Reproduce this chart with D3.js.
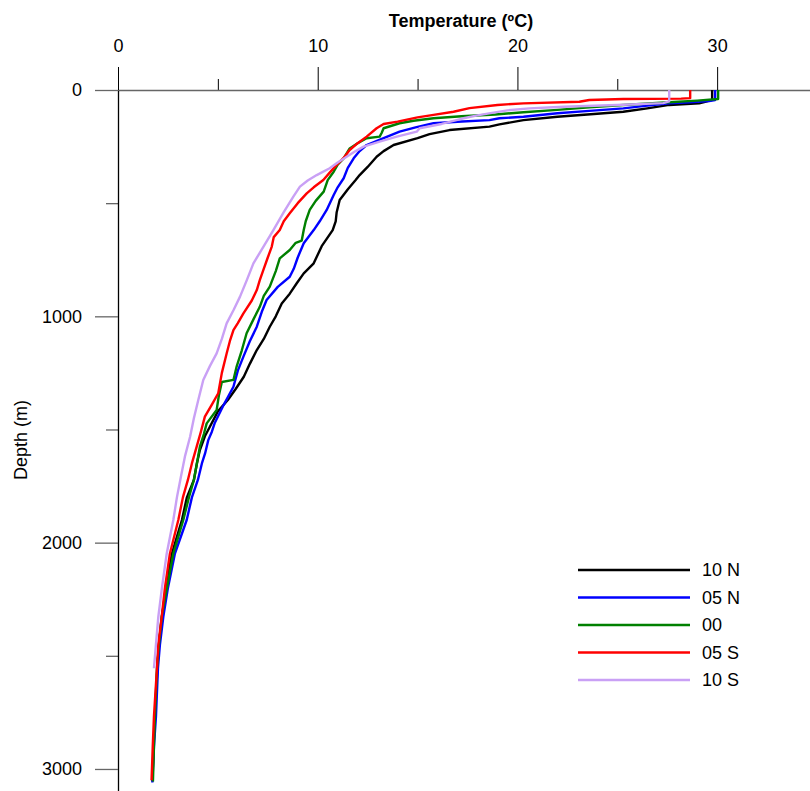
<!DOCTYPE html>
<html>
<head>
<meta charset="utf-8">
<script src="https://cdn.jsdelivr.net/npm/d3@7"></script>
<style>
  body { margin: 0; background: #fff; }
  text { font-family: "Liberation Sans", Arial, sans-serif; }
</style>
</head>
<body>
<div id="chart"></div>
<script>
// profiles: [depth (m), temperature (C)]
const stations = ['10 N', '05 N', '00', '05 S', '10 S'];
const colors = ['#000000', '#0000ff', '#008000', '#ff0000', '#c9a0f5'];

const p10N = [[0,29.75],[44,29.75],[52,29.4],[59,29.1],[66,27.6],[81,26.5],[96,25.3],[108,23.5],[118,22.0],[133,20.3],[152,19.1],[162,18.6],[177,16.6],[195,15.6],[213,15.0],[243,13.8],[270,13.3],[295,12.95],[340,12.5],[376,12.1],[398,11.9],[440,11.5],[486,11.1],[540,10.95],[580,10.9],[619,10.75],[690,10.2],[766,9.8],[810,9.3],[854,8.95],[900,8.6],[943,8.2],[1000,7.9],[1046,7.6],[1100,7.3],[1149,6.95],[1210,6.6],[1267,6.3],[1320,5.9],[1370,5.5],[1420,5.0],[1488,4.6],[1530,4.35],[1591,4.1],[1650,3.95],[1723,3.8],[1800,3.45],[1900,3.2],[2048,2.7],[2200,2.4],[2327,2.2],[2450,2.05],[2555,1.97],[2769,1.85],[2900,1.78],[3055,1.72]];
const p05N = [[0,29.9],[44,29.9],[49,29.6],[54,28.6],[59,27.6],[70,26.4],[81,25.3],[92,23.6],[103,22.0],[118,20.3],[125,19.1],[133,18.6],[140,17.0],[147,15.8],[165,14.9],[184,14.1],[213,13.3],[243,12.45],[270,12.1],[302,11.8],[345,11.5],[390,11.3],[430,11.0],[464,10.8],[530,10.45],[580,10.1],[619,9.8],[677,9.3],[740,9.0],[790,8.8],[825,8.6],[870,8.0],[928,7.44],[980,7.2],[1046,6.95],[1110,6.6],[1178,6.28],[1240,6.0],[1311,5.78],[1390,5.3],[1470,4.85],[1510,4.7],[1547,4.52],[1606,4.36],[1650,4.2],[1723,4.0],[1800,3.7],[1900,3.44],[2048,2.85],[2200,2.5],[2327,2.27],[2450,2.1],[2555,2.0],[2769,1.9],[2900,1.8],[3060,1.72]];
const p00 = [[0,30.05],[40,30.05],[47,29.0],[54,27.6],[66,25.3],[77,23.6],[88,22.0],[98,20.3],[108,18.9],[116,17.2],[125,15.8],[136,14.8],[147,14.1],[169,13.3],[190,13.2],[206,13.1],[213,12.45],[235,12.0],[258,11.6],[302,11.3],[330,11.0],[361,10.8],[398,10.5],[449,10.3],[490,9.9],[530,9.6],[580,9.4],[619,9.3],[665,9.2],[675,8.9],[707,8.6],[744,8.1],[800,7.9],[869,7.6],[910,7.3],[958,7.1],[1010,6.8],[1075,6.44],[1150,6.2],[1222,5.94],[1281,5.78],[1290,5.2],[1350,5.05],[1414,4.94],[1473,4.44],[1520,4.3],[1576,4.1],[1650,3.95],[1723,3.8],[1800,3.55],[1900,3.27],[2048,2.77],[2200,2.45],[2327,2.19],[2450,2.05],[2555,1.95],[2769,1.85],[2900,1.8],[3055,1.75]];
const p05S = [[0,28.65],[36,28.65],[38,28.2],[40,25.3],[44,23.6],[52,23.1],[59,20.3],[66,19.0],[80,17.6],[96,16.8],[110,15.8],[121,15.0],[140,14.0],[150,13.3],[169,12.95],[206,12.45],[235,12.0],[265,11.6],[300,11.3],[331,10.95],[365,10.6],[398,10.28],[430,9.8],[457,9.45],[500,9.0],[545,8.6],[580,8.3],[619,8.1],[650,7.8],[692,7.7],[740,7.5],[795,7.28],[840,7.1],[884,6.95],[930,6.7],[987,6.28],[1030,6.0],[1061,5.78],[1110,5.6],[1164,5.44],[1250,5.2],[1340,5.02],[1390,4.7],[1443,4.35],[1510,4.15],[1576,3.94],[1650,3.7],[1723,3.5],[1800,3.25],[1900,3.02],[2048,2.6],[2200,2.35],[2327,2.19],[2450,2.02],[2555,1.95],[2769,1.8],[2900,1.74],[3050,1.68]];
const p10S = [[0,27.6],[50,27.6],[58,27.3],[66,25.0],[74,22.3],[81,20.6],[90,19.5],[100,18.8],[112,18.0],[125,17.3],[150,16.2],[169,15.1],[184,14.96],[206,13.96],[228,13.1],[250,12.3],[270,11.9],[295,11.45],[320,11.0],[346,10.6],[376,9.95],[400,9.5],[427,9.11],[471,8.78],[540,8.3],[619,7.78],[690,7.3],[766,6.78],[840,6.45],[913,6.11],[970,5.8],[1031,5.44],[1100,5.2],[1164,4.94],[1220,4.6],[1281,4.27],[1370,4.02],[1450,3.8],[1532,3.61],[1620,3.35],[1709,3.15],[1800,2.95],[1900,2.77],[2048,2.44],[2200,2.2],[2327,2.02],[2450,1.9],[2555,1.8]];
const profiles = [p10N, p05N, p00, p05S, p10S];

const xMajor = [0, 10, 20, 30], xMinor = [5, 15, 25];
const yMajor = [0, 1000, 2000, 3000], yMinor = [500, 1500, 2500];

const width = 810, height = 791;
const svg = d3.select('#chart').append('svg').attr('width', width).attr('height', height);

const x = d3.scaleLinear().domain([0, 34.65]).range([118, 810]);
const y = d3.scaleLinear().domain([0, 3100]).range([90, 791.6]);

// x axis on top (at depth 0)
const gxMinor = svg.append('g').attr('transform', `translate(0, ${y(0)})`)
    .call(d3.axisTop(x).tickValues(xMinor).tickSize(11).tickSizeOuter(0).tickFormat(''));
const gx = svg.append('g').attr('transform', `translate(0, ${y(0)})`)
    .call(d3.axisTop(x).tickValues(xMajor).tickSize(23).tickSizeOuter(0).tickPadding(15).tickFormat(d3.format('d')));
gxMinor.select('.domain').remove();
gx.select('.domain').attr('stroke', '#666').attr('stroke-width', 1.3);
gx.selectAll('.tick line').attr('stroke', '#000');
gxMinor.selectAll('.tick line').attr('stroke', '#000');
gx.selectAll('text').attr('font-size', 18).attr('fill', '#000')
    .style('font-family', '"Liberation Sans", Arial, sans-serif');

// y axis
const gyMinor = svg.append('g').attr('transform', `translate(${x(0)}, 0)`)
    .call(d3.axisLeft(y).tickValues(yMinor).tickSize(12).tickSizeOuter(0).tickFormat(''));
const gy = svg.append('g').attr('transform', `translate(${x(0)}, 0)`)
    .call(d3.axisLeft(y).tickValues(yMajor).tickSize(23).tickSizeOuter(0).tickPadding(13).tickFormat(d3.format('d')));
gyMinor.select('.domain').remove();
gy.select('.domain').attr('stroke', '#000').attr('stroke-width', 1.3);
gy.selectAll('.tick line').attr('stroke', '#666').attr('stroke-width', 1.3);
gyMinor.selectAll('.tick line').attr('stroke', '#666').attr('stroke-width', 1.3);
gy.selectAll('text').attr('font-size', 18).attr('fill', '#000')
    .style('font-family', '"Liberation Sans", Arial, sans-serif');

// titles
svg.append('text').attr('x', 461).attr('y', 27).attr('text-anchor', 'middle')
    .attr('font-size', 18).attr('font-weight', 'bold').text('Temperature (ºC)');
svg.append('text').attr('transform', 'translate(27, 440) rotate(-90)').attr('text-anchor', 'middle')
    .attr('font-size', 18).text('Depth (m)');

// profiles
const line = d3.line().x(d => x(d[1])).y(d => y(d[0]));
svg.selectAll('path.profile').data(profiles).enter().append('path')
    .attr('class', 'profile')
    .attr('d', line)
    .attr('fill', 'none')
    .attr('stroke', (d, i) => colors[i])
    .attr('stroke-width', 2.4)
    .attr('stroke-linejoin', 'round');

// legend
const legend = svg.append('g').attr('transform', 'translate(578, 570)');
stations.forEach((s, i) => {
    const g = legend.append('g').attr('transform', `translate(0, ${i * 27.5})`);
    g.append('line').attr('x1', 0).attr('x2', 112).attr('stroke', colors[i]).attr('stroke-width', 2.4);
    g.append('text').attr('x', 124).attr('y', 0).attr('dy', '0.35em').attr('font-size', 18).text(s);
});
</script>
</body>
</html>
